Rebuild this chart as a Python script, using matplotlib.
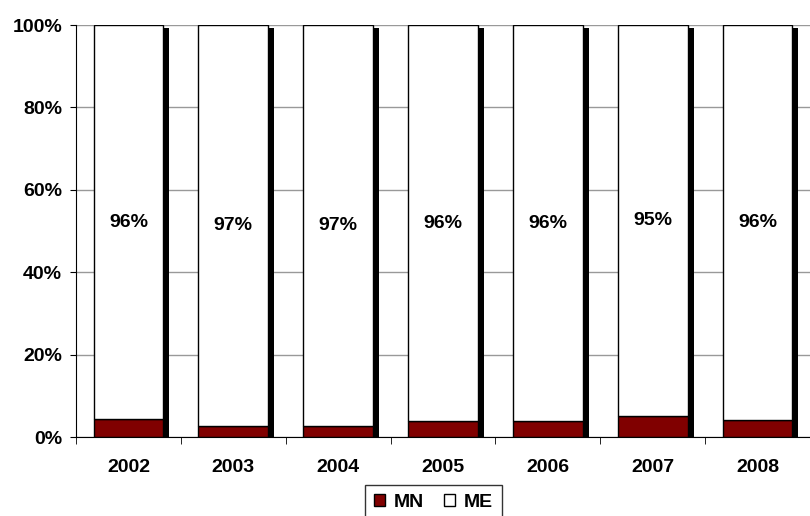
import numpy as np
import matplotlib.pyplot as plt

years = ["2002", "2003", "2004", "2005", "2006", "2007", "2008"]
mn = [4.3, 2.7, 2.6, 3.8, 3.8, 5.1, 4.2]
me = [100 - v for v in mn]

plt.rcParams['font.family'] = ['Liberation Sans', 'DejaVu Sans']
plt.rcParams['font.weight'] = 'bold'

fig = plt.figure(figsize=(8.1, 5.16), dpi=100)
ax = fig.add_axes([76 / 810, 1 - 437 / 516, 734 / 810, 412 / 516])

x = np.arange(len(years))
w = 0.665
dx = 6 / 105.3
dy = 0.7

# drop shadow behind each column
ax.bar(x + dx, [100 - dy] * len(x), w, color='black', zorder=1)
ax.bar(x, mn, w, color='#800000', edgecolor='black', linewidth=1, zorder=2, label='MN')
ax.bar(x, me, w, bottom=mn, color='white', edgecolor='black', linewidth=1, zorder=2, label='ME')

for i, v in enumerate(me):
    ax.text(x[i], mn[i] + v / 2, "%d%%" % round(v), ha='center', va='center',
            fontsize=14, fontweight='bold', zorder=3)

ax.set_xlim(-0.5, -0.5 + 734 / 105.3)
ax.set_ylim(0, 100)
ax.set_yticks(np.arange(0, 101, 20))
ax.set_yticklabels(["%d%%" % v for v in range(0, 101, 20)], fontsize=14, fontweight='bold')
ax.yaxis.grid(True, color='#999999', linewidth=1)
ax.set_axisbelow(True)

ax.set_xticks(x)
ax.set_xticklabels(years, fontsize=14, fontweight='bold')
ax.tick_params(axis='x', length=0, pad=16)
ax.set_xticks(np.arange(-0.5, 7, 1), minor=True)
ax.tick_params(axis='x', which='minor', length=5, color='black')
ax.tick_params(axis='y', length=4, pad=6, color='black')

for s in ['top', 'right']:
    ax.spines[s].set_visible(False)
ax.spines['left'].set_color('black')
ax.spines['bottom'].set_color('black')

leg = ax.legend(loc='upper center', bbox_to_anchor=(0.487, -0.1165), ncol=2, fontsize=14,
                frameon=True, fancybox=False, edgecolor='black', handlelength=0.55,
                handleheight=0.55, handletextpad=0.45, columnspacing=1.05,
                borderpad=0.45, borderaxespad=0)
leg.get_frame().set_linewidth(1)

fig.savefig("out.png", dpi=100)
